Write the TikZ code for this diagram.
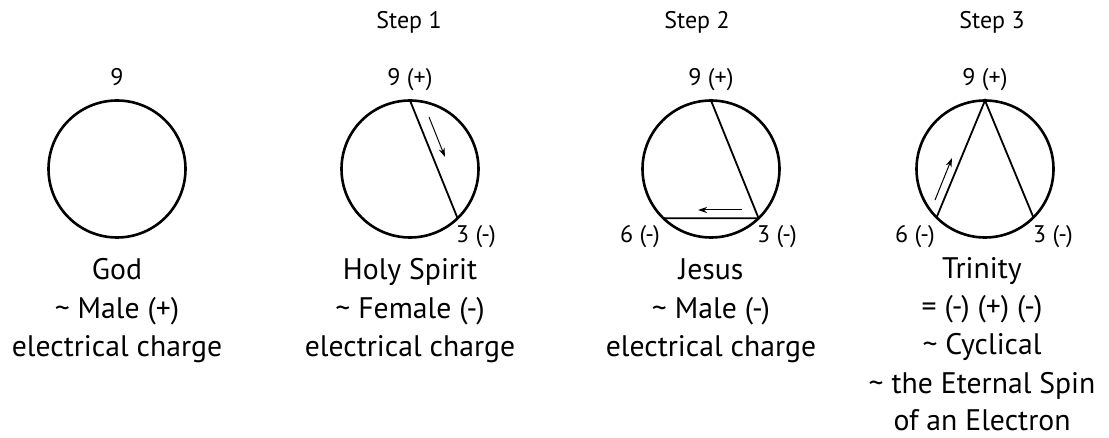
\documentclass[tikz,border=0pt]{standalone}
\usepackage{fontspec}
\setmainfont{PT Sans}
\usetikzlibrary{arrows.meta}
\tikzset{
  ring/.style={draw, circle, line width=2.6pt, minimum size=137pt, inner sep=0pt, outer sep=0pt},
  chord/.style={line width=1.8pt},
  flow/.style={line width=1pt, -{Stealth[length=9pt,width=6pt]}},
  big/.style={anchor=base, inner sep=0pt, font=\fontsize{29.7}{35}\selectfont},
  small/.style={anchor=base, inner sep=0pt, font=\fontsize{24}{28}\selectfont},
}
\begin{document}
\begin{tikzpicture}[x=1pt,y=-1pt]
\useasboundingbox (0,0) rectangle (1109,438);
% circles
\node[ring] (c0) at (117,169) {};
\node[ring] (c1) at (410,169) {};
\node[ring] (c2) at (711,169) {};
\node[ring] (c3) at (985,169) {};
% step labels
\node[small] (s1) at (409,29) {Step 1};
\node[small] (s2) at (697,29) {Step 2};
\node[small] (s3) at (992,29) {Step 3};
% point labels
\node[small] (n0) at (117,86) {9};
\node[small] (n1) at (410,86) {9 (+)};
\node[small] (t1) at (476,243) {3 (-)};
\node[small] (n2) at (711,86) {9 (+)};
\node[small] (x2) at (640,243) {6 (-)};
\node[small] (t2) at (777,243) {3 (-)};
\node[small] (n3) at (985,86) {9 (+)};
\node[small] (x3) at (915,243) {6 (-)};
\node[small] (t3) at (1053,243) {3 (-)};
% chords
\draw[chord] (c1.90) -- (c1.-46);
\draw[chord] (c2.90) -- (c2.-46) -- (c2.-134);
\draw[chord] (c3.-135) -- (c3.90) -- (c3.-45);
% arrows
\coordinate (a1s) at (429,117); \coordinate (a1e) at (445,157);
\coordinate (a2s) at (742,210); \coordinate (a2e) at (698,210);
\coordinate (a3s) at (935,200); \coordinate (a3e) at (952,158);
\draw[flow] (a1s) -- (a1e);
\draw[flow] (a2s) -- (a2e);
\draw[flow] (a3s) -- (a3e);
% captions
\node[big] (g1) at (117,280) {God};
\node[big] (g2) at (117,318.5) {\char`\~{} Male (+)};
\node[big] (g3) at (117,357) {electrical charge};
\node[big] (h1) at (410,280) {Holy Spirit};
\node[big] (h2) at (410,318.5) {\char`\~{} Female (-)};
\node[big] (h3) at (410,357) {electrical charge};
\node[big] (j1) at (711,280) {Jesus};
\node[big] (j2) at (711,318.5) {\char`\~{} Male (-)};
\node[big] (j3) at (711,357) {electrical charge};
\node[big] (r1) at (982,279) {Trinity};
\node[big] (r2) at (982,317) {= (-) (+) (-)};
\node[big] (r3) at (982,355) {\char`\~{} Cyclical};
\node[big] (r4) at (982,393) {\char`\~{} the Eternal Spin};
\node[big] (r5) at (982,431) {of an Electron};
\end{tikzpicture}
\end{document}
